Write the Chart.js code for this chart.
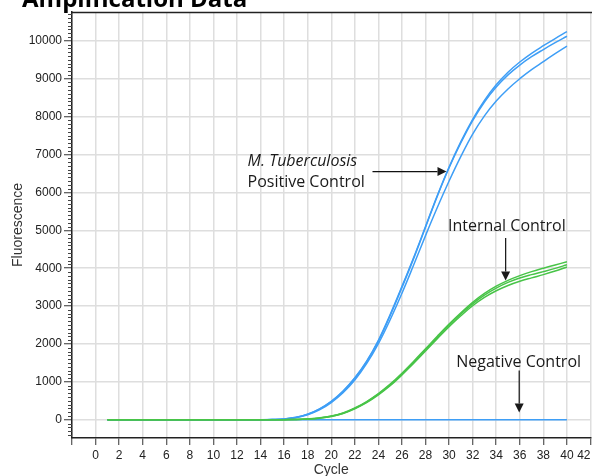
<!DOCTYPE html>
<html><head><meta charset="utf-8">
<script src="https://cdn.jsdelivr.net/npm/chart.js@4/dist/chart.umd.min.js"></script>
<style>html,body{margin:0;padding:0;background:#fff;overflow:hidden}#wrap{width:592px;height:476px;position:relative}</style>
</head><body><div id="wrap"><canvas id="c"></canvas></div>
<script>
// ---- data ----
const CYCLES = [1,2,3,4,5,6,7,8,9,10,11,12,13,14,15,16,17,18,19,20,21,22,23,24,25,26,27,28,29,30,31,32,33,34,35,36,37,38,39,40];
const POS_A = [0,0,0,0,0,0,0,0,0,0,0,0,0,0,6,22,65,150,290,490,760,1110,1550,2100,2780,3520,4290,5100,5920,6670,7340,7930,8430,8840,9170,9440,9670,9870,10060,10240];
const POS_B = [0,0,0,0,0,0,0,0,0,0,0,0,0,0,6,20,62,145,282,480,748,1095,1530,2075,2750,3490,4260,5080,5900,6650,7310,7895,8385,8780,9100,9360,9580,9770,9950,10120];
const POS_C = [0,0,0,0,0,0,0,0,0,0,0,0,0,0,5,18,55,132,262,455,715,1050,1480,2010,2640,3340,4090,4860,5600,6300,6950,7540,8020,8410,8730,9000,9240,9450,9660,9860];
const IC_A = [0,0,0,0,0,0,0,0,0,0,0,0,0,0,0,4,10,24,50,98,182,312,482,692,940,1230,1545,1875,2205,2525,2825,3100,3335,3525,3680,3805,3910,4000,4085,4170];
const IC_B = [0,0,0,0,0,0,0,0,0,0,0,0,0,0,0,4,9,22,47,93,174,302,467,675,920,1205,1515,1845,2175,2495,2790,3060,3290,3475,3625,3740,3830,3910,3995,4090];
const IC_C = [0,0,0,0,0,0,0,0,0,0,0,0,0,0,0,3,8,20,44,88,166,292,454,660,900,1185,1490,1815,2140,2455,2745,3010,3230,3405,3545,3655,3745,3830,3925,4030];
const NEG = [0,0,0,0,0,0,0,0,0,0,0,0,0,0,0,0,0,0,0,0,0,0,0,0,0,0,0,0,0,0,0,0,0,0,0,0,0,0,0,0];
const X_TICKS = [-2,0,2,4,6,8,10,12,14,16,18,20,22,24,26,28,30,32,34,36,38,40,42];
const Y_TICKS = [0,1000,2000,3000,4000,5000,6000,7000,8000,9000,10000];
const TITLE = 'Amplification Data';
const X_TITLE = 'Cycle';
const Y_TITLE = 'Fluorescence';

// annotations in data coordinates
const NOTES = [
  {lines:['M. Tuberculosis','Positive Control'], italic:[true,false], x:12.9, y:6700, arrow:{x1:23.5,y1:6550,x2:29.78,y2:6550}},
  {lines:['Internal Control'], italic:[false], x:29.9, y:4990, arrow:{x1:34.8,y1:4795,x2:34.8,y2:3675}},
  {lines:['Negative Control'], italic:[false], x:30.6, y:1400, arrow:{x1:35.95,y1:1300,x2:35.95,y2:193}}
];

const BLUE = 'rgb(62,158,246)';
const GREEN = 'rgb(72,196,72)';
const pts = arr => CYCLES.map((c,i)=>({x:c,y:arr[i]}));
const line = (label, arr, color) => ({label, data: pts(arr), borderColor: color, backgroundColor: color, borderWidth: 1.5, pointRadius: 0, fill: false, tension: 0.4});

const deco = {
  id: 'deco',
  afterDatasetsDraw(chart) {
    const {ctx, chartArea, scales} = chart;
    const xs = scales.x, ys = scales.y;
    ctx.save();
    // top border
    ctx.strokeStyle = '#222'; ctx.lineWidth = 1.5;
    ctx.beginPath(); ctx.moveTo(chartArea.left, chartArea.top + 0.5); ctx.lineTo(chartArea.right + 2, chartArea.top + 0.5); ctx.stroke();
    // minor y ticks
    ctx.lineWidth = 1; ctx.strokeStyle = '#444';
    for (let v = Math.ceil(ys.min / 100) * 100; v <= ys.max; v += 100) {
      if (v % 1000 === 0) continue;
      const py = Math.round(ys.getPixelForValue(v)) + 0.5;
      ctx.beginPath(); ctx.moveTo(chartArea.left - 4, py); ctx.lineTo(chartArea.left, py); ctx.stroke();
    }
    // annotations
    ctx.fillStyle = '#1a1a1a'; ctx.strokeStyle = '#111'; ctx.textBaseline = 'alphabetic'; ctx.textAlign = 'left';
    NOTES.forEach(n => {
      const px = xs.getPixelForValue(n.x), py = ys.getPixelForValue(n.y);
      n.lines.forEach((t, i) => {
        ctx.font = (n.italic[i] ? 'italic ' : '') + '16px "Open Sans"';
        ctx.fillText(t, px, py + i * 21);
      });
      const a = n.arrow;
      const x1 = xs.getPixelForValue(a.x1), y1 = ys.getPixelForValue(a.y1);
      const x2 = xs.getPixelForValue(a.x2), y2 = ys.getPixelForValue(a.y2);
      const ang = Math.atan2(y2 - y1, x2 - x1);
      const L = 9, W = 4.5;
      const bx = x2 - L * Math.cos(ang), by = y2 - L * Math.sin(ang);
      ctx.lineWidth = 1.2;
      ctx.beginPath(); ctx.moveTo(x1, y1); ctx.lineTo(bx, by); ctx.stroke();
      ctx.beginPath();
      ctx.moveTo(x2, y2);
      ctx.lineTo(bx + W * Math.sin(ang), by - W * Math.cos(ang));
      ctx.lineTo(bx - W * Math.sin(ang), by + W * Math.cos(ang));
      ctx.closePath(); ctx.fill();
    });
    // chart title (cropped at the top in the reference)
    ctx.font = 'bold 24px "Open Sans"';
    ctx.fillStyle = '#000';
    ctx.fillText(TITLE, 22, 7);
    ctx.restore();
  }
};

new Chart(document.getElementById('c'), {
  type: 'line',
  data: {
    datasets: [
      line('Internal Control A', IC_A, GREEN),
      line('Internal Control B', IC_B, GREEN),
      line('Internal Control C', IC_C, GREEN),
      line('Positive Control A', POS_A, BLUE),
      line('Positive Control B', POS_B, BLUE),
      line('Positive Control C', POS_C, BLUE),
      line('Negative Control', NEG, BLUE)
    ]
  },
  options: {
    responsive: true,
    maintainAspectRatio: false,
    animation: false,
    layout: {padding: {top: 12, right: 1.5, bottom: 0, left: 0}},
    plugins: {legend: {display: false}, tooltip: {enabled: false}, title: {display: false}},
    scales: {
      x: {
        type: 'linear', min: -2, max: 42,
        afterBuildTicks: s => { s.ticks = X_TICKS.map(v => ({value: v})); },
        afterFit: s => { s.height = 38; s.paddingLeft = 0; s.paddingRight = 0; },
        grid: {color: '#dedede', lineWidth: 1.5, tickColor: '#333', tickLength: 7, tickWidth: 1},
        border: {color: '#222', width: 1.5},
        ticks: {autoSkip: false, maxRotation: 0, align: 'inner', padding: 3, color: '#222',
                font: {family: '"Liberation Sans", Arial', size: 12},
                callback: v => v < 0 ? '' : String(v)},
        title: {display: true, text: X_TITLE, color: '#333', font: {family: '"Liberation Sans", Arial', size: 14}, padding: {top: 0, bottom: -3}}
      },
      y: {
        type: 'linear', min: -480, max: 10760,
        afterBuildTicks: s => { s.ticks = Y_TICKS.map(v => ({value: v})); },
        afterFit: s => { s.width = 72; s.paddingTop = 0; s.paddingBottom = 0; },
        grid: {color: '#dedede', lineWidth: 1.5, tickColor: '#333', tickLength: 8, tickWidth: 1},
        border: {color: '#222', width: 1.5},
        ticks: {padding: 2, color: '#222', font: {family: '"Liberation Sans", Arial', size: 12},
                callback: v => String(v)},
        title: {display: true, text: Y_TITLE, color: '#333', font: {family: '"Liberation Sans", Arial', size: 14}, padding: {top: 10, bottom: 0}}
      }
    }
  },
  plugins: [deco]
});
</script></body></html>
